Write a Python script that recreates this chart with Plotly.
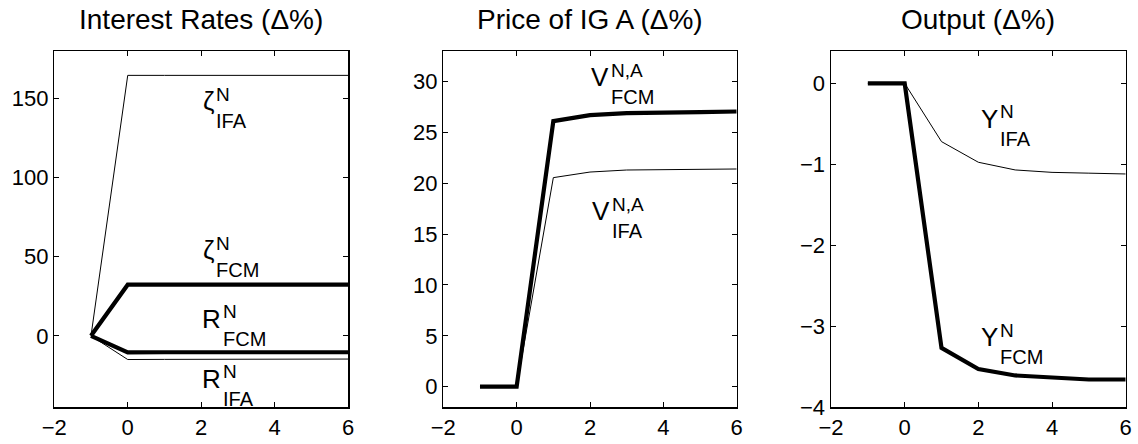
import plotly.graph_objects as go

periods = [-1, 0, 1, 2, 3, 4, 5, 6]

# Panel 1: Interest rates
zeta_IFA = [0, 164.6, 164.6, 164.6, 164.6, 164.6, 164.6, 164.6]
zeta_FCM = [0, 32.3, 32.3, 32.3, 32.3, 32.3, 32.3, 32.3]
R_FCM = [0, -10.5, -10.4, -10.4, -10.4, -10.4, -10.4, -10.4]
R_IFA = [0, -15.0, -14.9, -14.8, -14.8, -14.7, -14.7, -14.7]

# Panel 2: Price of IG A
V_FCM = [0, 0, 26.1, 26.7, 26.9, 27.0, 27.0, 27.05]
V_IFA = [0, 0, 20.55, 21.1, 21.3, 21.35, 21.4, 21.4]

# Panel 3: Output
Y_IFA = [0, 0, -0.72, -0.975, -1.07, -1.10, -1.11, -1.12]
Y_FCM = [0, 0, -3.27, -3.53, -3.61, -3.64, -3.66, -3.66]

titles = ["Interest Rates (Δ%)", "Price of IG A (Δ%)", "Output (Δ%)"]
x_ticks = [-2, 0, 2, 4, 6]
y_ticks = [[0, 50, 100, 150], [0, 5, 10, 15, 20, 25, 30], [-4, -3, -2, -1, 0]]
y_ranges = [[-45, 180], [-2, 33], [-4, 0.4]]

# label: panel, x, y, main, sup, sub
labels = [
    (1, 2.35, 148.4, "ζ", "N", "IFA"),
    (1, 2.35, 54.2, "ζ", "N", "FCM"),
    (1, 2.54, 10.9, "R", "N", "FCM"),
    (1, 2.54, -27.3, "R", "N", "IFA"),
    (2, 2.515, 30.4, "V", "N,A", "FCM"),
    (2, 2.54, 17.24, "V", "N,A", "IFA"),
    (3, 2.533, -0.44, "Y", "N", "IFA"),
    (3, 2.533, -3.14, "Y", "N", "FCM"),
]

W, H = 1138, 444
FONT = "Liberation Sans, Arial, Helvetica, sans-serif"
x_domains = [[54.3 / W, 348.0 / W], [443.3 / W, 736.7 / W], [831.0 / W, 1125.7 / W]]
y_domain = [(H - 407.0) / H, (H - 51.0) / H]

fig = go.Figure()

series = [
    (1, zeta_IFA, 1.0), (1, zeta_FCM, 4.2), (1, R_IFA, 1.0), (1, R_FCM, 4.2),
    (2, V_IFA, 1.0), (2, V_FCM, 4.2),
    (3, Y_IFA, 1.0), (3, Y_FCM, 4.2),
]
for p, vals, w in series:
    sfx = "" if p == 1 else str(p)
    fig.add_trace(go.Scatter(x=periods, y=vals, mode="lines",
                             line=dict(color="black", width=w),
                             xaxis="x" + sfx, yaxis="y" + sfx,
                             showlegend=False, hoverinfo="skip"))

layout = dict(template="none", width=W, height=H, margin=dict(l=0, r=0, t=0, b=0, pad=0),
              paper_bgcolor="white", plot_bgcolor="white",
              font=dict(family=FONT, color="black", size=22))
annotations = []
for i in range(3):
    sfx = "" if i == 0 else str(i + 1)
    axcommon = dict(showline=True, mirror="ticks", linecolor="black", linewidth=1.5,
                    ticks="inside", ticklen=5, tickcolor="black", tickwidth=1,
                    showgrid=False, zeroline=False, automargin=False,
                    tickfont=dict(size=22, family=FONT, color="black"))
    layout["xaxis" + sfx] = dict(domain=x_domains[i], range=[-2, 6], tickvals=x_ticks,
                                 anchor="y" + sfx, **axcommon)
    layout["yaxis" + sfx] = dict(domain=y_domain, range=y_ranges[i], tickvals=y_ticks[i],
                                 anchor="x" + sfx, **axcommon)
    annotations.append(dict(text=titles[i], xref="paper", yref="paper",
                            x=(x_domains[i][0] + x_domains[i][1]) / 2, y=1 - 19.0 / H,
                            xanchor="center", yanchor="middle", showarrow=False,
                            font=dict(size=28, family=FONT)))

for p, lx, ly, main, sup, sub in labels:
    sfx = "" if p == 1 else str(p)
    common = dict(xref="x" + sfx, yref="y" + sfx, x=lx, y=ly, showarrow=False,
                  yanchor="middle", borderpad=0)
    annotations.append(dict(text=main, xanchor="right", xshift=1,
                            font=dict(size=26, family=FONT), **common))
    annotations.append(dict(text=sup, xanchor="left", xshift=1, yshift=7,
                            font=dict(size=19, family=FONT), **common))
    annotations.append(dict(text=sub, xanchor="left", xshift=1, yshift=-20,
                            font=dict(size=20, family=FONT), **common))

layout["annotations"] = annotations
fig.update_layout(**layout)
fig.write_html("out.html", config={"displayModeBar": False, "staticPlot": True},
               post_script="document.body.style.margin='0';document.body.style.padding='0';"
                           "document.documentElement.style.overflow='hidden';")
